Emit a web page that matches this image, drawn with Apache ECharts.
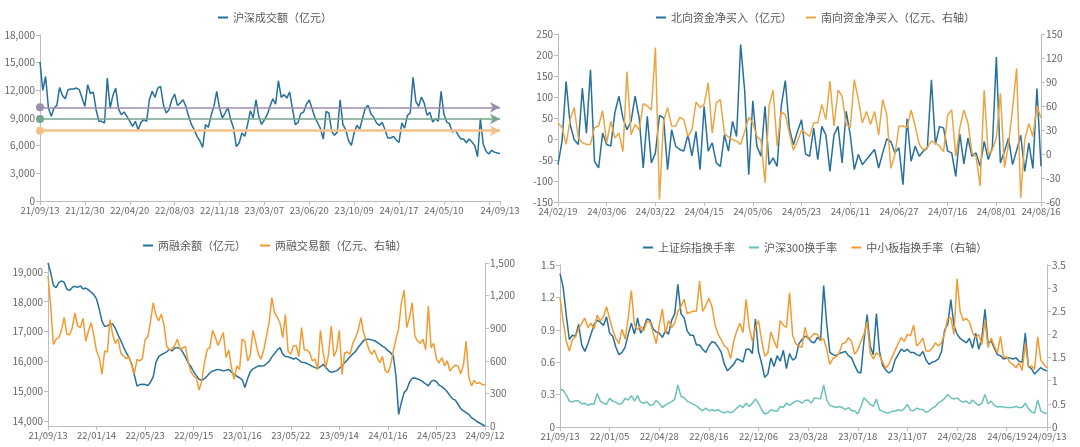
<!DOCTYPE html>
<html>
<head>
<meta charset="utf-8">
<script src="https://cdn.jsdelivr.net/npm/echarts@6/dist/echarts.min.js"></script>
<style>
  html, body { margin: 0; padding: 0; background: #fff; }
  #chart { width: 1080px; height: 447px; }
</style>
</head>
<body>
<div id="chart"></div>
<script>
  // 沪深成交额（亿元），约每4.4个交易日取一点
  var turnoverLabels = ['21/09/13', '21/12/30', '22/04/20', '22/08/03', '22/11/18', '23/03/07', '23/06/20', '23/10/09', '24/01/17', '24/05/10', '24/09/13'];
  var turnover = [15100, 12000, 13500, 10080, 9180, 10080, 10370, 12320, 11450, 11090,
    12070, 12140, 12140, 12250, 12070, 11160, 10260, 12610, 11640, 11820,
    9900, 8640, 8640, 8460, 13330, 10080, 11450, 12250, 9970, 9360,
    9650, 9180, 8670, 8090, 8640, 7730, 8530, 8820, 8640, 10980,
    11890, 11240, 12250, 12430, 10440, 9540, 9900, 10980, 11600, 10370,
    10620, 10980, 10260, 9180, 8280, 7730, 7010, 6500, 5800, 8280,
    7990, 9290, 10260, 11890, 10080, 9000, 9540, 10150, 8820, 7910,
    5900, 6290, 7370, 7010, 8280, 9790, 9000, 10980, 9180, 8300,
    8800, 9360, 10260, 11090, 10510, 13040, 11240, 11530, 11160, 11820,
    10010, 8280, 8530, 9500, 9650, 10510, 10950, 10010, 9070, 8460,
    7840, 6720, 9720, 9540, 7550, 7120, 7480, 10980, 8280, 7730,
    6540, 6040, 7370, 8200, 7800, 9000, 10080, 10370, 9430, 9070,
    8460, 8200, 8530, 7730, 6830, 6830, 7010, 6610, 6360, 8460,
    7910, 9290, 9540, 13400, 10800, 10260, 11270, 10620, 9290, 9610,
    8560, 8930, 8640, 11890, 9430, 8560, 8380, 7480, 7700, 7190,
    6720, 6720, 6320, 6720, 6400, 6000, 4800, 8900, 6200, 5400,
    5100, 5500, 5300, 5200, 5150];
  var turnoverLines = [10160, 8890, 7620];

  // 北向 / 南向资金净买入（亿元），逐日
  var flowLabels = ['24/02/19', '24/03/06', '24/03/22', '24/04/15', '24/05/06', '24/05/23', '24/06/11', '24/06/27', '24/07/16', '24/08/01', '24/08/16'];
  var northFlow = [-61, -5, 137, 34, -2, -13, 121, 14, 165, -53,
    -69, 14, -13, -17, 62, 102, 50, 22, 42, 102,
    50, -69, 54, -57, -33, 56, 50, -73, 22, -17,
    -25, -29, 10, -40, 18, -73, 78, -29, -9, -57,
    -65, 10, -29, 42, 6, 225, 114, -85, 91, -17,
    -41, 78, -61, -45, -65, 78, 139, 26, -14, 18,
    46, -36, -41, 26, -49, 30, 10, -77, 10, 30,
    -57, 66, 10, -73, -37, -61, -49, -37, -25, -69,
    -33, 0, -6, -33, -21, -109, 48, -53, -17, -41,
    -29, -21, 141, -13, 30, 26, -29, -33, -89, 12,
    -59, 2, -41, -33, -65, -6, -49, -21, 195, -57,
    -29, 2, -61, -27, 9, -77, -10, -70, 120, -65];
  var southFlow = [39, 33, 12, 43, 58, 20, 14, 12, 12, 33,
    35, 54, 14, 41, 20, 26, 3, 103, 24, 37,
    30, 63, 60, 55, 133, -57, 41, 58, 35, 35,
    46, 43, 22, 30, 65, 58, 62, 89, 26, 64,
    68, 26, 21, 18, 16, 12, 28, 46, 39, 22,
    17, -36, 60, 80, 10, 53, 49, 26, 5, 16,
    30, 26, 22, 39, 39, 62, 43, 91, 35, 80,
    72, 37, 33, 93, 68, 39, 53, 37, 53, 24,
    68, 49, -18, -1, 35, 35, 33, 55, 35, 12,
    5, 8, 16, 14, 10, 3, 49, 55, -3, 33,
    55, 39, 1, -3, -40, 80, -1, 5, 20, 76,
    -17, 12, 57, 107, -55, 18, 38, 22, 60, 45];

  // 两融余额 / 两融交易额（亿元）
  var marginLabels = ['21/09/13', '22/01/14', '22/05/23', '22/09/15', '23/01/16', '23/05/22', '23/09/14', '24/01/16', '24/05/23', '24/09/12'];
  var marginBalance = [19300, 18980, 18550, 18470, 18640, 18700, 18650, 18420, 18380, 18480,
    18520, 18480, 18530, 18430, 18460, 18400, 18320, 18240, 18090, 17750,
    17350, 17170, 17190, 17250, 17250, 17100, 16880, 16700, 16480, 16290,
    16140, 15920, 15550, 15170, 15220, 15230, 15220, 15190, 15300, 15480,
    15960, 16160, 16220, 16270, 16320, 16400, 16350, 16450, 16460, 16420,
    16300, 16130, 15950, 15820, 15650, 15520, 15400, 15360, 15420, 15510,
    15610, 15670, 15700, 15730, 15710, 15680, 15700, 15730, 15640, 15560,
    15500, 15450, 15380, 15120, 15420, 15650, 15750, 15800, 15850, 15840,
    15850, 15920, 16000, 16150, 16260, 16380, 16460, 16250, 16160, 16150,
    16120, 16080, 16110, 16040, 15970, 15960, 15930, 15880, 15830, 15790,
    15760, 15820, 15900, 15790, 15690, 15630, 15660, 15680, 15760, 15850,
    15960, 16050, 16150, 16250, 16330, 16470, 16580, 16700, 16740, 16740,
    16720, 16690, 16640, 16580, 16510, 16450, 16360, 16290, 16180, 15500,
    14220, 14620, 14950, 15050, 15300, 15430, 15440, 15410, 15370, 15310,
    15240, 15180, 15320, 15370, 15320, 15200, 15150, 15070, 14980, 14850,
    14740, 14700, 14560, 14410, 14340, 14280, 14220, 14110, 14050, 13980,
    13930, 13880, 13830];
  var marginTrade = [1380, 1104, 750, 800, 813, 880, 1000, 844, 840, 905,
    1040, 920, 905, 990, 780, 874, 950, 830, 690, 630,
    476, 690, 680, 980, 840, 760, 800, 670, 644, 620,
    640, 560, 480, 614, 600, 620, 798, 820, 960, 1135,
    1020, 966, 1030, 930, 736, 700, 710, 740, 800, 706,
    720, 730, 583, 500, 460, 440, 330, 414, 580, 706,
    720, 880, 820, 740, 800, 859, 630, 700, 540, 430,
    552, 520, 800, 780, 600, 650, 880, 770, 660, 614,
    700, 828, 960, 1181, 1040, 1000, 950, 813, 1028, 690,
    660, 736, 740, 640, 905, 700, 700, 675, 600, 614,
    520, 880, 675, 540, 660, 920, 640, 700, 880, 476,
    675, 680, 660, 760, 813, 880, 997, 860, 782, 700,
    660, 700, 630, 583, 640, 510, 491, 560, 690, 800,
    900, 1135, 1250, 905, 1000, 1135, 830, 780, 760, 798,
    700, 1104, 721, 760, 614, 580, 630, 552, 600, 506,
    540, 560, 552, 480, 560, 782, 450, 368, 420, 390,
    400, 380, 380];

  // 换手率（%）
  var rateLabels = ['21/09/13', '22/01/05', '22/04/28', '22/08/16', '22/12/06', '23/03/28', '23/07/18', '23/11/07', '24/02/28', '24/06/19', '24/09/13'];
  var shRate = [1.42, 1.30, 1.04, 0.81, 0.85, 0.84, 0.95, 0.76, 0.70, 0.77,
    0.86, 0.95, 0.99, 0.97, 0.94, 1.02, 0.87, 0.84, 0.74, 0.67,
    0.69, 0.74, 0.86, 0.96, 0.86, 1.01, 0.87, 0.92, 1.00, 0.99,
    0.91, 0.88, 0.87, 0.83, 0.89, 0.86, 0.99, 1.05, 1.32, 1.05,
    1.01, 0.89, 0.85, 0.85, 0.76, 0.76, 0.72, 0.69, 0.75, 0.79,
    0.78, 0.74, 0.69, 0.58, 0.52, 0.55, 0.58, 0.63, 0.62, 0.60,
    0.72, 0.72, 0.68, 1.00, 0.70, 0.59, 0.46, 0.49, 0.64, 0.56,
    0.66, 0.61, 0.71, 0.54, 0.68, 0.62, 0.64, 0.77, 0.81, 0.84,
    0.83, 0.79, 0.78, 0.83, 0.80, 1.31, 0.95, 0.69, 0.67, 0.66,
    0.68, 0.69, 0.70, 0.66, 0.64, 0.57, 0.51, 0.50, 0.80, 1.04,
    0.75, 0.67, 1.05, 0.70, 0.57, 0.53, 0.50, 0.52, 0.62, 0.67,
    0.72, 0.70, 0.72, 0.69, 0.69, 0.67, 0.66, 0.70, 0.62, 0.58,
    0.60, 0.61, 0.63, 0.70, 0.90, 0.95, 1.18, 0.94, 0.86, 0.82,
    0.80, 0.78, 0.82, 0.73, 0.87, 0.72, 0.82, 1.09, 0.77, 0.80,
    0.73, 0.67, 0.66, 0.63, 0.64, 0.64, 0.63, 0.64, 0.61, 0.60,
    0.87, 0.56, 0.54, 0.49, 0.52, 0.55, 0.53, 0.52];
  var hs300Rate = [0.35, 0.34, 0.30, 0.24, 0.23, 0.245, 0.24, 0.215, 0.22, 0.20,
    0.215, 0.21, 0.31, 0.24, 0.22, 0.21, 0.265, 0.24, 0.23, 0.21,
    0.22, 0.265, 0.25, 0.29, 0.24, 0.29, 0.23, 0.22, 0.235, 0.20,
    0.205, 0.245, 0.22, 0.18, 0.205, 0.22, 0.235, 0.255, 0.39, 0.285,
    0.27, 0.24, 0.225, 0.21, 0.195, 0.17, 0.15, 0.175, 0.15, 0.16,
    0.15, 0.16, 0.14, 0.13, 0.145, 0.13, 0.145, 0.175, 0.20, 0.18,
    0.22, 0.19, 0.22, 0.26, 0.22, 0.16, 0.12, 0.13, 0.16, 0.15,
    0.145, 0.19, 0.18, 0.22, 0.20, 0.22, 0.24, 0.24, 0.22, 0.245,
    0.25, 0.22, 0.27, 0.265, 0.26, 0.39, 0.25, 0.20, 0.19, 0.18,
    0.19, 0.18, 0.16, 0.18, 0.15, 0.15, 0.12, 0.19, 0.27, 0.24,
    0.21, 0.19, 0.26, 0.16, 0.145, 0.135, 0.13, 0.145, 0.145, 0.16,
    0.15, 0.17, 0.21, 0.155, 0.15, 0.175, 0.165, 0.16, 0.135, 0.15,
    0.175, 0.19, 0.225, 0.24, 0.265, 0.30, 0.27, 0.26, 0.27, 0.245,
    0.23, 0.24, 0.215, 0.25, 0.22, 0.20, 0.22, 0.30, 0.215, 0.24,
    0.20, 0.185, 0.19, 0.185, 0.18, 0.18, 0.18, 0.19, 0.18, 0.18,
    0.22, 0.17, 0.14, 0.13, 0.25, 0.15, 0.13, 0.13];
  var smeRate = [2.80, 2.30, 1.86, 1.64, 1.89, 1.95, 2.12, 2.24, 2.35, 2.15,
    2.24, 2.12, 2.42, 2.29, 2.38, 2.60, 2.34, 2.10, 1.91, 1.80,
    2.11, 1.90, 2.36, 2.95, 2.20, 2.10, 2.18, 2.08, 2.28, 2.27,
    2.05, 1.80, 2.20, 2.55, 2.02, 2.30, 2.15, 2.25, 2.50, 2.60,
    2.76, 2.45, 2.48, 2.50, 2.50, 3.15, 2.50, 2.62, 2.78, 2.60,
    2.20, 2.00, 1.88, 1.75, 1.70, 1.48, 1.85, 2.08, 2.24, 2.04,
    2.76, 2.15, 1.85, 2.15, 2.30, 1.87, 1.53, 1.60, 2.05, 1.86,
    1.70, 2.30, 2.20, 2.15, 2.90, 1.98, 1.80, 1.75, 1.72, 2.15,
    1.89, 1.95, 2.02, 2.00, 1.88, 1.90, 1.68, 1.35, 1.48, 1.52,
    1.60, 1.80, 1.82, 1.93, 1.85, 1.57, 1.67, 1.85, 2.00, 2.26,
    1.60, 1.47, 1.60, 1.55, 1.40, 1.27, 1.35, 1.50, 1.65, 1.80,
    1.93, 1.85, 2.00, 1.97, 2.20, 1.75, 1.82, 1.92, 1.64, 1.64,
    1.70, 1.82, 1.75, 1.82, 2.02, 2.35, 2.36, 2.00, 3.20, 2.50,
    2.30, 2.35, 2.26, 2.04, 1.93, 2.00, 1.78, 2.30, 1.72, 1.92,
    1.75, 1.60, 1.96, 1.50, 1.52, 1.40, 1.35, 1.28, 1.39, 1.22,
    1.80, 1.30, 1.32, 1.25, 1.95, 1.45, 1.35, 1.28];

  var BLUE = '#26709a', ORANGE = '#f29b33', GOLD = '#eba545', TEAL = '#6dc1bb';
  var FONT = '"Microsoft YaHei", "Noto Sans CJK SC", sans-serif';
  var AXIS = '#bdbdbd', LABEL = '#666';

  function pts(arr) {
    return arr.map(function (v, i) { return [i, v]; });
  }

  // 只在每 step 个点处标日期，最后一个日期固定标在末端
  function dateFmt(labels, step, last) {
    return function (v) {
      if (v === last) return labels[labels.length - 1];
      var k = v / step;
      return (k % 1 === 0 && k < labels.length - 1) ? labels[k] : '';
    };
  }

  function xAxisOf(grid, labels, step, count) {
    return {
      type: 'value', gridIndex: grid, min: 0, max: count - 1, interval: step,
      axisLine: { onZero: false, lineStyle: { color: AXIS } },
      axisTick: { length: 4, lineStyle: { color: AXIS } },
      axisLabel: {
        color: LABEL, fontSize: 9.5, margin: 5, fontFamily: FONT,
        showMinLabel: true, showMaxLabel: true, hideOverlap: false,
        formatter: dateFmt(labels, step, count - 1)
      },
      splitLine: { show: false }
    };
  }

  function yAxisOf(grid, pos, extra) {
    var ax = {
      type: 'value', gridIndex: grid, position: pos,
      axisLine: { show: true, lineStyle: { color: AXIS } },
      axisTick: { show: true, length: 4, lineStyle: { color: AXIS } },
      axisLabel: { color: LABEL, fontSize: 10, margin: 5, fontFamily: FONT },
      splitLine: { show: false }
    };
    for (var k in extra) ax[k] = extra[k];
    return ax;
  }

  function legendLeft(center, names) {
    var ctx = document.createElement('canvas').getContext('2d');
    ctx.font = '11px ' + FONT;
    var w = 0;
    names.forEach(function (n, i) {
      w += 10 + 5 + ctx.measureText(n).width + (i ? 14 : 0);
    });
    return Math.round(center - w / 2);
  }

  function legendOf(names, center, top) {
    return {
      data: names, left: legendLeft(center, names), top: top,
      icon: 'rect', itemWidth: 10, itemHeight: 2, itemGap: 14,
      textStyle: { color: '#595959', fontSize: 11, fontFamily: FONT }
    };
  }

  function lineOf(name, xi, yi, data, color) {
    return {
      name: name, type: 'line', xAxisIndex: xi, yAxisIndex: yi,
      data: pts(data), showSymbol: false, symbol: 'none',
      lineStyle: { color: color, width: 1.5 }, itemStyle: { color: color }
    };
  }

  var names1 = ['沪深成交额（亿元）'];
  var names2 = ['北向资金净买入（亿元）', '南向资金净买入（亿元、右轴）'];
  var names3 = ['两融余额（亿元）', '两融交易额（亿元、右轴）'];
  var names4 = ['上证综指换手率', '沪深300换手率', '中小板指换手率（右轴）'];

  var myChart = echarts.init(document.getElementById('chart'));

  var s0 = lineOf(names1[0], 0, 0, turnover, BLUE);
  s0.markLine = {
    silent: true,
    symbol: ['circle', 'arrow'],
    symbolSize: [8, 10],
    label: { show: false },
    data: [
      { yAxis: turnoverLines[0], lineStyle: { color: '#9a8fae', width: 1.5, type: 'solid' } },
      { yAxis: turnoverLines[1], lineStyle: { color: '#76a58c', width: 1.5, type: 'solid' } },
      { yAxis: turnoverLines[2], lineStyle: { color: '#f3c089', width: 2.5, type: 'solid' } }
    ]
  };

  var option = {
    animation: false,
    backgroundColor: '#fff',
    textStyle: { fontFamily: FONT },
    legend: [
      legendOf(names1, 270, 7),
      legendOf(names2, 810, 7),
      legendOf(names3, 270, 235),
      legendOf(names4, 810, 237)
    ],
    grid: [
      { left: 40, top: 35, width: 460, height: 166 },
      { left: 558, top: 34, width: 483, height: 168 },
      { left: 48, top: 263, width: 437, height: 163 },
      { left: 560, top: 265, width: 487, height: 162 }
    ],
    xAxis: [
      xAxisOf(0, turnoverLabels, 16, turnover.length),
      xAxisOf(1, flowLabels, 12, northFlow.length),
      xAxisOf(2, marginLabels, 18, marginBalance.length),
      xAxisOf(3, rateLabels, 16, shRate.length)
    ],
    yAxis: [
      yAxisOf(0, 'left', { min: 0, max: 18000, interval: 3000 }),
      yAxisOf(1, 'left', { min: -150, max: 250, interval: 50 }),
      yAxisOf(1, 'right', { min: -60, max: 150, interval: 30 }),
      yAxisOf(2, 'left', { min: 'dataMin', max: 'dataMax', splitNumber: 5 }),
      yAxisOf(2, 'right', { min: 0, max: 1500, interval: 300 }),
      yAxisOf(3, 'left', { min: 0, max: 1.5, interval: 0.3 }),
      yAxisOf(3, 'right', { min: 0, max: 3.5, interval: 0.5 })
    ],
    series: [
      s0,
      lineOf(names2[0], 1, 1, northFlow, BLUE),
      lineOf(names2[1], 1, 2, southFlow, GOLD),
      lineOf(names3[0], 2, 3, marginBalance, BLUE),
      lineOf(names3[1], 2, 4, marginTrade, ORANGE),
      lineOf(names4[0], 3, 5, shRate, BLUE),
      lineOf(names4[1], 3, 5, hs300Rate, TEAL),
      lineOf(names4[2], 3, 6, smeRate, ORANGE)
    ]
  };
  option.yAxis[3].axisLabel.showMinLabel = false;
  option.yAxis[3].axisLabel.showMaxLabel = false;

  myChart.setOption(option);
</script>
</body>
</html>
